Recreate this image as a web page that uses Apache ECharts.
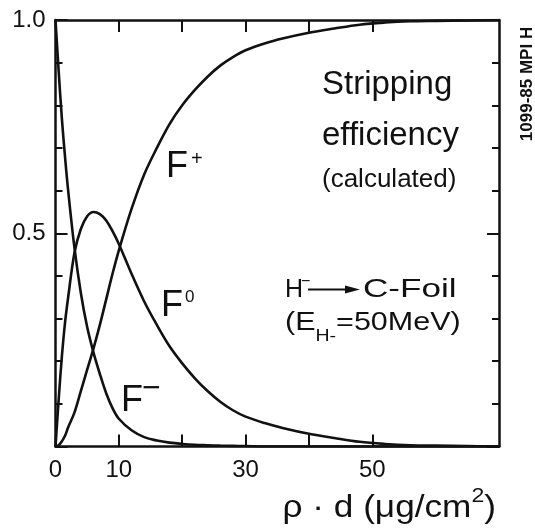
<!DOCTYPE html>
<html>
<head>
<meta charset="utf-8">
<script src="https://cdn.jsdelivr.net/npm/echarts@6/dist/echarts.min.js"></script>
<style>
html,body{margin:0;padding:0;background:#fff;}
#chart{width:535px;height:529px;}
</style>
</head>
<body>
<div id="chart"></div>
<script>
// thickness rho*d (ug/cm^2)
const thickness = [0, 0.5, 1, 1.5, 2, 3, 4, 5, 6, 7, 8, 9, 10, 12, 14, 16, 18, 20, 22, 24, 26, 28, 30, 33, 36, 40, 44, 48, 52, 56, 60, 65, 70];
const fMinus = [1.0, 0.88, 0.77, 0.68, 0.60, 0.465, 0.36, 0.28, 0.22, 0.17, 0.125, 0.09, 0.065, 0.038, 0.022, 0.014, 0.009, 0.006, 0.004, 0.003, 0.002, 0.0015, 0.001, 0, 0, 0, 0, 0, 0, 0, 0, 0, 0];
const fZero = [0, 0.11, 0.21, 0.29, 0.35, 0.455, 0.51, 0.54, 0.55, 0.545, 0.53, 0.505, 0.475, 0.405, 0.34, 0.285, 0.235, 0.195, 0.16, 0.13, 0.105, 0.085, 0.07, 0.055, 0.043, 0.03, 0.02, 0.011, 0.006, 0.003, 0.002, 0.001, 0];
const fPlus = [0, 0.003, 0.012, 0.025, 0.045, 0.08, 0.13, 0.18, 0.23, 0.285, 0.345, 0.405, 0.46, 0.557, 0.638, 0.70, 0.756, 0.80, 0.836, 0.867, 0.893, 0.913, 0.929, 0.945, 0.957, 0.97, 0.98, 0.989, 0.994, 0.997, 0.998, 0.999, 1.0];
const xTickValues = [10, 20, 30, 40, 50];
const xLabelValues = [0, 10, 30, 50];

const FF = "'Liberation Sans',sans-serif";
const INK = '#111';

function pairs(ys){ return thickness.map((x,i)=>[x, ys[i]]); }

const axisLine = {show:true, onZero:false, lineStyle:{color:INK, width:2.5}};
function xAx(pos, labels){
  return {
    type:'value', min:0, max:70, interval:10, position:pos, gridIndex:0,
    axisLine: axisLine,
    axisTick:{show:true, inside:true, length:12, customValues:xTickValues, lineStyle:{color:INK, width:2}},
    axisLabel: labels ? {show:true, customValues:xLabelValues, fontSize:24, fontFamily:FF, color:INK, margin:12} : {show:false},
    splitLine:{show:false}
  };
}
function yAx(pos, labels){
  return {
    type:'value', min:0, max:1, interval:0.5, position:pos, gridIndex:0,
    axisLine: axisLine,
    axisTick:{show:true, inside:true, length:12, lineStyle:{color:INK, width:2}},
    minorTick:{show:true, splitNumber:5, length:7, lineStyle:{color:INK, width:2}},
    axisLabel: labels ? {show:true, fontSize:24, fontFamily:FF, color:INK, margin:10,
      formatter:v => v===0 ? '' : v.toFixed(1)} : {show:false},
    splitLine:{show:false}, minorSplitLine:{show:false}
  };
}
function line(name, ys){
  return {name:name, type:'line', xAxisIndex:0, yAxisIndex:0, data:pairs(ys), smooth:0.35,
    showSymbol:false, lineStyle:{color:INK, width:2.6}, silent:true};
}
function txt(x, y, s, size, style, el){
  return Object.assign({type:'text', x:x, y:y, silent:true,
    style:Object.assign({text:s, fill:INK, font:`${size}px ${FF}`, align:'left', verticalAlign:'middle'}, style||{})},
    el||{});
}

const chart = echarts.init(document.getElementById('chart'), null, {renderer:'canvas'});
chart.setOption({
  animation:false,
  backgroundColor:'#fff',
  grid:{left:55.5, right:36, top:20, bottom:82.5, containLabel:false},
  xAxis:[xAx('bottom', true), xAx('top', false)],
  yAxis:[yAx('left', true), yAx('right', false)],
  series:[line('F-', fMinus), line('F0', fZero), line('F+', fPlus)],
  graphic:[
    txt(322, 85, 'Stripping', 33),
    txt(322, 136, 'efficiency', 33),
    txt(322, 180, '(calculated)', 26),
    // curve labels
    txt(166, 167, 'F', 36),
    txt(191, 159, '+', 20),
    txt(161, 306, 'F', 36),
    txt(185, 297, '0', 17),
    txt(121, 401, 'F', 36),
    txt(142, 389, '−', 32),
    // reaction
    txt(285, 290, 'H', 25),
    txt(301, 282, '−', 16),
    {type:'line', silent:true, shape:{x1:308, y1:289.5, x2:350, y2:289.5}, style:{stroke:INK, lineWidth:2.2}},
    {type:'polygon', silent:true, shape:{points:[[345,285.5],[360,289.5],[345,293.5]]}, style:{fill:INK}},
    txt(363, 290, 'C-Foil', 26, null, {scaleX:1.35}),
    txt(285, 323, '(E{h|H}{h|-}=50MeV)', 25, {
      rich:{h:{fontSize:16, fontFamily:FF, fill:INK, verticalAlign:'bottom', lineHeight:16}},
      lineHeight:44
    }, {scaleX:1.22}),
    // axis title
    txt(496, 508, 'ρ · d (μg/cm{s|2})', 32, {
      align:'right', lineHeight:44,
      rich:{s:{fontSize:21, fontFamily:FF, fill:INK, verticalAlign:'top', lineHeight:24}}
    }, {scaleX:1.1}),
    // side note
    {type:'text', x:527, y:84, rotation:Math.PI/2, silent:true,
      style:{text:'1099-85 MPI H', fill:INK, font:`bold 17px ${FF}`, align:'center', verticalAlign:'middle'}}
  ]
});
</script>
</body>
</html>
